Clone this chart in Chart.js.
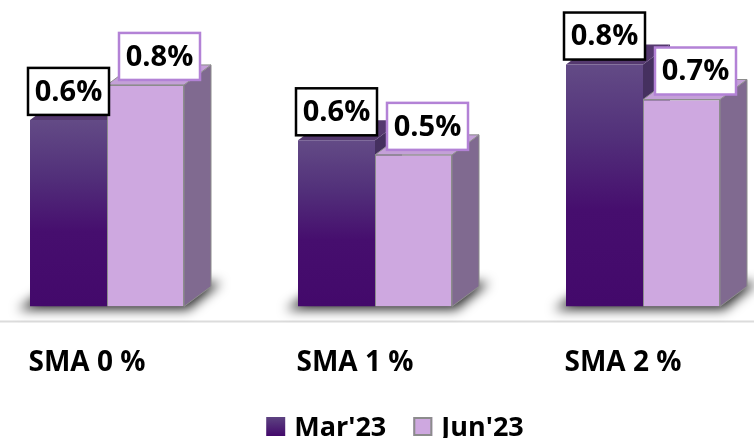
<!DOCTYPE html>
<html>
<head>
<meta charset="utf-8">
<script src="https://cdn.jsdelivr.net/npm/chart.js@4.4.1/dist/chart.umd.min.js"></script>
<style>
  html, body { margin: 0; padding: 0; background: #fff; overflow: hidden; }
  #wrap { position: absolute; left: -27px; top: 0; width: 804px; height: 438px; }
</style>
</head>
<body>
<div id="wrap"><canvas id="myChart"></canvas></div>
<script>
const categories = ['SMA 0 %', 'SMA 1 %', 'SMA 2 %'];
const seriesNames = ["Mar'23", "Jun'23"];
const mar23 = [0.64, 0.57, 0.83];
const jun23 = [0.76, 0.52, 0.71];

const DX = 27, DY = 20;
const FONT = "'Open Sans', 'DejaVu Sans', sans-serif";

const frontColors = ['#44096c', '#cea8e0'];
const topColors = ['#55396f', '#c4a0d8'];
const sideColors = ['#45305f', '#806a90'];
const labelBorders = ['#000000', '#b382d6'];

function marGradient(c) {
    const chart = c.chart;
    if (!chart.chartArea || c.raw == null) return frontColors[0];
    const top = chart.scales.y.getPixelForValue(c.raw);
    const bottom = chart.scales.y.getPixelForValue(0);
    const g = chart.ctx.createLinearGradient(0, top, 0, bottom);
    g.addColorStop(0, '#634b86');
    g.addColorStop(0.3, '#52307a');
    g.addColorStop(0.6, '#460e6e');
    g.addColorStop(1, '#43096b');
    return g;
}

function poly(ctx, pts) {
    ctx.beginPath();
    ctx.moveTo(pts[0][0], pts[0][1]);
    for (let i = 1; i < pts.length; i++) ctx.lineTo(pts[i][0], pts[i][1]);
    ctx.closePath();
}

const bars3d = {
    id: 'bars3d',
    beforeDatasetsDraw(chart) {
        const ctx = chart.ctx;
        const metas = [chart.getDatasetMeta(0), chart.getDatasetMeta(1)];
        const floorY = chart.chartArea.bottom + 15;

        // floor line
        ctx.save();
        ctx.strokeStyle = '#dcdcdc';
        ctx.lineWidth = 2;
        ctx.beginPath();
        ctx.moveTo(0, floorY);
        ctx.lineTo(chart.width, floorY);
        ctx.stroke();
        ctx.restore();

        // soft shadow under each group
        ctx.save();
        ctx.filter = 'blur(6px)';
        ctx.fillStyle = 'rgba(0,0,0,0.85)';
        categories.forEach((c, i) => {
            const a = metas[0].data[i], b = metas[1].data[i];
            const x0 = a.x - a.width / 2, x1 = b.x + b.width / 2, y = a.base;
            poly(ctx, [[x0 - 12, y + 3], [x1 + 4, y + 3], [x1 + DX + 10, y - DY - 4], [x0 + DX, y - DY - 4]]);
            ctx.fill();
        });
        ctx.restore();

        // side and top faces
        ctx.save();
        metas.forEach((m, d) => {
            m.data.forEach(el => {
                const l = el.x - el.width / 2, r = el.x + el.width / 2, t = el.y, b = el.base;
                ctx.fillStyle = sideColors[d];
                poly(ctx, [[r, t], [r + DX, t - DY], [r + DX, b - DY], [r, b]]);
                ctx.fill();
                if (d === 1) { ctx.strokeStyle = '#8c8c8c'; ctx.lineWidth = 1; ctx.stroke(); }
                ctx.fillStyle = topColors[d];
                poly(ctx, [[l, t], [r, t], [r + DX, t - DY], [l + DX, t - DY]]);
                ctx.fill();
                if (d === 1) { ctx.strokeStyle = '#8c8c8c'; ctx.lineWidth = 1; ctx.stroke(); }
            });
        });
        ctx.restore();
    },
    afterDraw(chart) {
        const ctx = chart.ctx;
        // value labels
        ctx.save();
        ctx.font = "bold 29px " + FONT;
        ctx.textAlign = 'center';
        ctx.textBaseline = 'middle';
        [0, 1].forEach(d => {
            const m = chart.getDatasetMeta(d);
            const vals = chart.data.datasets[d].data;
            m.data.forEach((el, i) => {
                const w = 81, h = 47;
                const cx = d === 0 ? el.x : el.x + 14;
                const bottom = el.y - 5;
                ctx.fillStyle = '#fff';
                ctx.fillRect(cx - w / 2, bottom - h, w, h);
                ctx.strokeStyle = labelBorders[d];
                ctx.lineWidth = 2.5;
                ctx.strokeRect(cx - w / 2, bottom - h, w, h);
                ctx.fillStyle = '#000';
                ctx.fillText(vals[i].toFixed(1) + '%', cx, bottom - h / 2 + 1);
            });
        });
        ctx.restore();

        // legend
        ctx.save();
        ctx.font = "bold 27px " + FONT;
        ctx.textBaseline = 'alphabetic';
        const box = 19, gap = 9, itemGap = 27;
        const widths = seriesNames.map(s => ctx.measureText(s).width);
        const total = box + gap + widths[0] + itemGap + box + gap + widths[1];
        let x = 27 + 395 - total / 2;
        const baseY = 436;
        seriesNames.forEach((s, d) => {
            if (d === 0) {
                const g = ctx.createLinearGradient(0, baseY - box, 0, baseY);
                g.addColorStop(0, '#5d4381');
                g.addColorStop(1, '#43096b');
                ctx.fillStyle = g;
                ctx.fillRect(x, baseY - box, box, box);
            } else {
                ctx.fillStyle = frontColors[1];
                ctx.fillRect(x, baseY - box, box, box);
                ctx.strokeStyle = '#8c8c8c';
                ctx.lineWidth = 2;
                ctx.strokeRect(x + 1, baseY - box + 1, box - 2, box - 2);
            }
            x += box + gap;
            ctx.fillStyle = '#000';
            ctx.fillText(s, x, baseY);
            x += widths[d] + itemGap;
        });
        ctx.restore();
    }
};

const ctx = document.getElementById('myChart');

new Chart(ctx, {
    type: 'bar',
    data: {
        labels: categories,
        datasets: [{
            label: seriesNames[0],
            data: mar23,
            backgroundColor: marGradient,
            borderWidth: 0
        }, {
            label: seriesNames[1],
            data: jun23,
            backgroundColor: frontColors[1],
            borderColor: '#8c8c8c',
            borderWidth: 1
        }]
    },
    options: {
        responsive: true,
        maintainAspectRatio: false,
        animation: false,
        categoryPercentage: 154 / 268,
        barPercentage: 1,
        layout: { padding: { top: 15, bottom: 18, left: 0, right: 0 } },
        plugins: {
            legend: { display: false },
            tooltip: { enabled: false }
        },
        scales: {
            x: {
                grid: { display: false, drawTicks: false },
                border: { display: false },
                ticks: {
                    color: '#000',
                    font: { family: FONT, size: 28, weight: 'bold' },
                    padding: 40,
                    labelOffset: -20
                }
            },
            y: {
                display: false,
                min: 0,
                max: 1
            }
        }
    },
    plugins: [bars3d]
});
</script>
</body>
</html>
